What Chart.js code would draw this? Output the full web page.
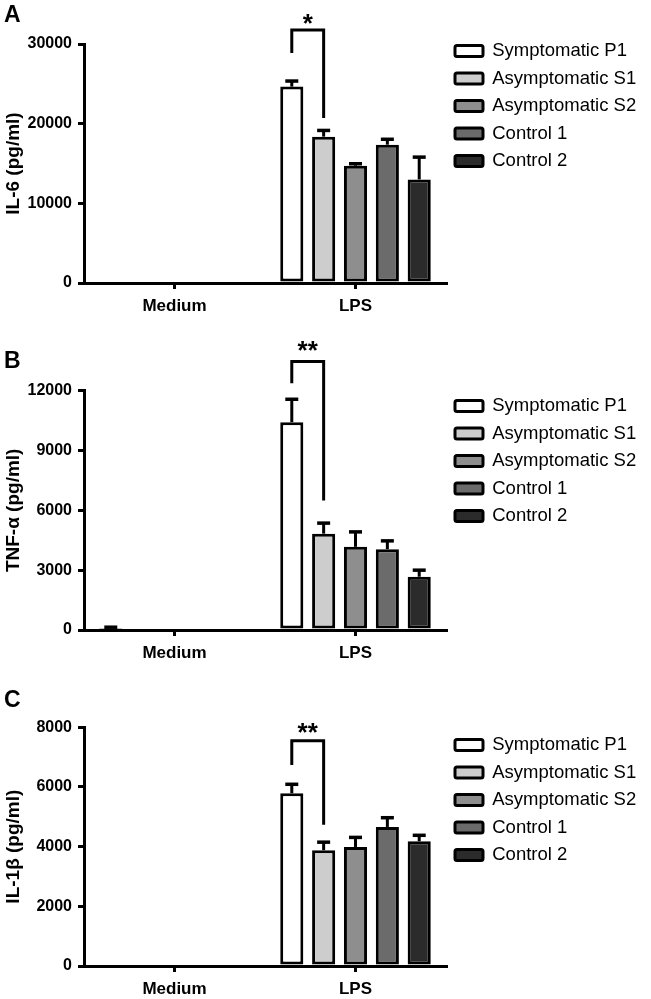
<!DOCTYPE html>
<html><head><meta charset="utf-8">
<script src="https://cdn.jsdelivr.net/npm/chart.js@4/dist/chart.umd.min.js"></script>
<style>
html,body{margin:0;padding:0;background:#fff;width:651px;height:999px;overflow:hidden;}
.panel{position:absolute;left:0;width:651px;height:333px;}
canvas{display:block;}
</style></head><body>
<div class="panel" style="top:0"><canvas id="cA" width="651" height="333"></canvas></div>
<div class="panel" style="top:333px"><canvas id="cB" width="651" height="333"></canvas></div>
<div class="panel" style="top:666px"><canvas id="cC" width="651" height="333"></canvas></div>
<script>
// ---------- data ----------
const categories = ['Medium', 'LPS'];
const seriesNames = ['Symptomatic P1', 'Asymptomatic S1', 'Asymptomatic S2', 'Control 1', 'Control 2'];

// Panel A: IL-6 (pg/ml), one value per series
const il6Medium = [0, 0, 0, 0, 0];
const il6MediumErr = [0, 0, 0, 0, 0];
const il6LPS = [24650, 18370, 14720, 17360, 13000];
const il6LPSErr = [700, 780, 250, 680, 2800];
const il6Ticks = [0, 10000, 20000, 30000];

// Panel B: TNF-alpha (pg/ml)
const tnfMedium = [100, 0, 0, 0, 0];
const tnfMediumErr = [40, 0, 0, 0, 0];
const tnfLPS = [10420, 4830, 4170, 4050, 2670];
const tnfLPSErr = [1150, 530, 750, 420, 330];
const tnfTicks = [0, 3000, 6000, 9000, 12000];

// Panel C: IL-1beta (pg/ml)
const il1bMedium = [0, 0, 0, 0, 0];
const il1bMediumErr = [0, 0, 0, 0, 0];
const il1bLPS = [5790, 3880, 3990, 4660, 4180];
const il1bLPSErr = [300, 270, 320, 310, 200];
const il1bTicks = [0, 2000, 4000, 6000, 8000];

// significance brackets (data units): bracket level, left leg end, right leg end, star level
const il6Bracket = [31750, 28870, 20700, 33100];
const tnfBracket = [13470, 12370, 6500, 14250];
const il1bBracket = [7550, 6740, 4730, 7980];

// ---------- styling ----------
const FAMILY = '"Liberation Sans", Arial, Helvetica, sans-serif';
const seriesColors = ['#ffffff', '#cdcdcd', '#8e8e8e', '#6b6b6b', '#2b2b2b'];
const LEGEND_FONT = 18.5, LEGEND_BOX = 28, LEGEND_PAD = 9;

function legendWidth() {
  const c = document.createElement('canvas').getContext('2d');
  c.font = LEGEND_FONT + 'px ' + FAMILY;
  let m = 0;
  seriesNames.forEach(n => { m = Math.max(m, c.measureText(n).width); });
  return LEGEND_PAD + LEGEND_BOX + LEGEND_FONT / 2 + m + 10;
}

const errorBarPlugin = {
  id: 'errorBars',
  afterDatasetsDraw(chart) {
    const ctx = chart.ctx, ys = chart.scales.y;
    chart.data.datasets.forEach((ds, di) => {
      const meta = chart.getDatasetMeta(di);
      meta.data.forEach((bar, i) => {
        const e = ds.errors[i];
        if (!e) return;
        const top = ys.getPixelForValue(ds.data[i] + e);
        ctx.save();
        ctx.strokeStyle = '#000';
        ctx.lineCap = 'butt';
        ctx.lineWidth = 3;
        ctx.beginPath();
        ctx.moveTo(bar.x, bar.y);
        ctx.lineTo(bar.x, top);
        ctx.stroke();
        ctx.lineWidth = 3.5;
        ctx.beginPath();
        ctx.moveTo(bar.x - 6.5, top);
        ctx.lineTo(bar.x + 6.5, top);
        ctx.stroke();
        ctx.restore();
      });
    });
  }
};

const annotPlugin = {
  id: 'annot',
  afterDraw(chart, args, opts) {
    const ctx = chart.ctx, ys = chart.scales.y;
    const b = opts.bracket;
    const x1 = chart.getDatasetMeta(0).data[1].x;
    const x2 = chart.getDatasetMeta(1).data[1].x;
    const yl = ys.getPixelForValue(b[0]);
    ctx.save();
    ctx.strokeStyle = '#000';
    ctx.lineWidth = 3;
    ctx.lineJoin = 'miter';
    ctx.beginPath();
    ctx.moveTo(x1, ys.getPixelForValue(b[1]));
    ctx.lineTo(x1, yl);
    ctx.lineTo(x2, yl);
    ctx.lineTo(x2, ys.getPixelForValue(b[2]));
    ctx.stroke();
    ctx.fillStyle = '#000';
    ctx.font = 'bold 26px ' + FAMILY;
    ctx.textAlign = 'center';
    ctx.textBaseline = 'middle';
    ctx.fillText(opts.star, (x1 + x2) / 2, ys.getPixelForValue(b[3]) + 6);
    ctx.font = 'bold 23px ' + FAMILY;
    ctx.textAlign = 'left';
    ctx.textBaseline = 'alphabetic';
    ctx.fillText(opts.letter, 4, opts.letterY);
    ctx.restore();
  }
};

function makeChart(id, p) {
  const lw = legendWidth();
  const datasets = seriesNames.map((name, i) => ({
    label: name,
    data: [p.medium[i], p.lps[i]],
    errors: [p.mediumErr[i], p.lpsErr[i]],
    backgroundColor: seriesColors[i],
    borderColor: '#000',
    borderWidth: 3,
    borderSkipped: false,
    categoryPercentage: 0.88,
    barPercentage: 0.725
  }));
  return new Chart(document.getElementById(id), {
    type: 'bar',
    data: { labels: categories, datasets },
    options: {
      responsive: false,
      animation: false,
      devicePixelRatio: 1,
      events: [],
      layout: { padding: { top: p.padTop, right: 651 - 446 - lw, bottom: 0, left: 0 } },
      plugins: {
        title: { display: true, text: '', fullSize: false, padding: 0, font: { size: 10, lineHeight: p.gap / 10 } },
        legend: {
          position: 'right', align: 'start', maxWidth: 400,
          labels: {
            boxWidth: LEGEND_BOX, boxHeight: 11, padding: LEGEND_PAD, color: '#000',
            useBorderRadius: true, borderRadius: 2,
            font: { family: FAMILY, size: LEGEND_FONT, lineHeight: 1 }
          }
        },
        tooltip: { enabled: false },
        annot: { bracket: p.bracket, star: p.star, letter: p.letter, letterY: p.letterY }
      },
      scales: {
        x: {
          grid: { display: true, offset: false, drawOnChartArea: false, drawTicks: true, tickLength: 6, lineWidth: 3, color: '#000' },
          border: { display: true, width: 3, color: '#000' },
          ticks: { font: { family: FAMILY, size: 17, weight: 'bold' }, color: '#000', padding: 7 },
          afterFit: s => { s.height = p.xH; }
        },
        y: {
          min: p.ticks[0], max: p.ticks[p.ticks.length - 1],
          afterBuildTicks: s => { s.ticks = p.ticks.map(v => ({ value: v })); },
          ticks: { font: { family: FAMILY, size: 16, weight: 'bold' }, color: '#000', padding: 6, callback: v => String(v) },
          grid: { drawOnChartArea: false, drawTicks: true, tickLength: 6, lineWidth: 3, color: '#000' },
          border: { display: true, width: 3, color: '#000' },
          title: { display: true, text: p.title, color: '#000', font: { family: FAMILY, size: 19, weight: 'bold' }, padding: { top: 2, bottom: 0 } },
          afterFit: s => { s.width = 84; }
        }
      }
    },
    plugins: [errorBarPlugin, annotPlugin]
  });
}

makeChart('cA', { medium: il6Medium, mediumErr: il6MediumErr, lps: il6LPS, lpsErr: il6LPSErr, ticks: il6Ticks,
  title: 'IL-6 (pg/ml)', bracket: il6Bracket, star: '*', letter: 'A', letterY: 22, padTop: 32.75, gap: 11.25, xH: 50 });
makeChart('cB', { medium: tnfMedium, mediumErr: tnfMediumErr, lps: tnfLPS, lpsErr: tnfLPSErr, ticks: tnfTicks,
  title: 'TNF-\u03B1 (pg/ml)', bracket: tnfBracket, star: '**', letter: 'B', letterY: 35, padTop: 54.75, gap: 2.95, xH: 36 });
makeChart('cC', { medium: il1bMedium, mediumErr: il1bMediumErr, lps: il1bLPS, lpsErr: il1bLPSErr, ticks: il1bTicks,
  title: 'IL-1\u03B2 (pg/ml)', bracket: il1bBracket, star: '**', letter: 'C', letterY: 41, padTop: 60.75, gap: 0.55, xH: 33 });
</script>
</body></html>
